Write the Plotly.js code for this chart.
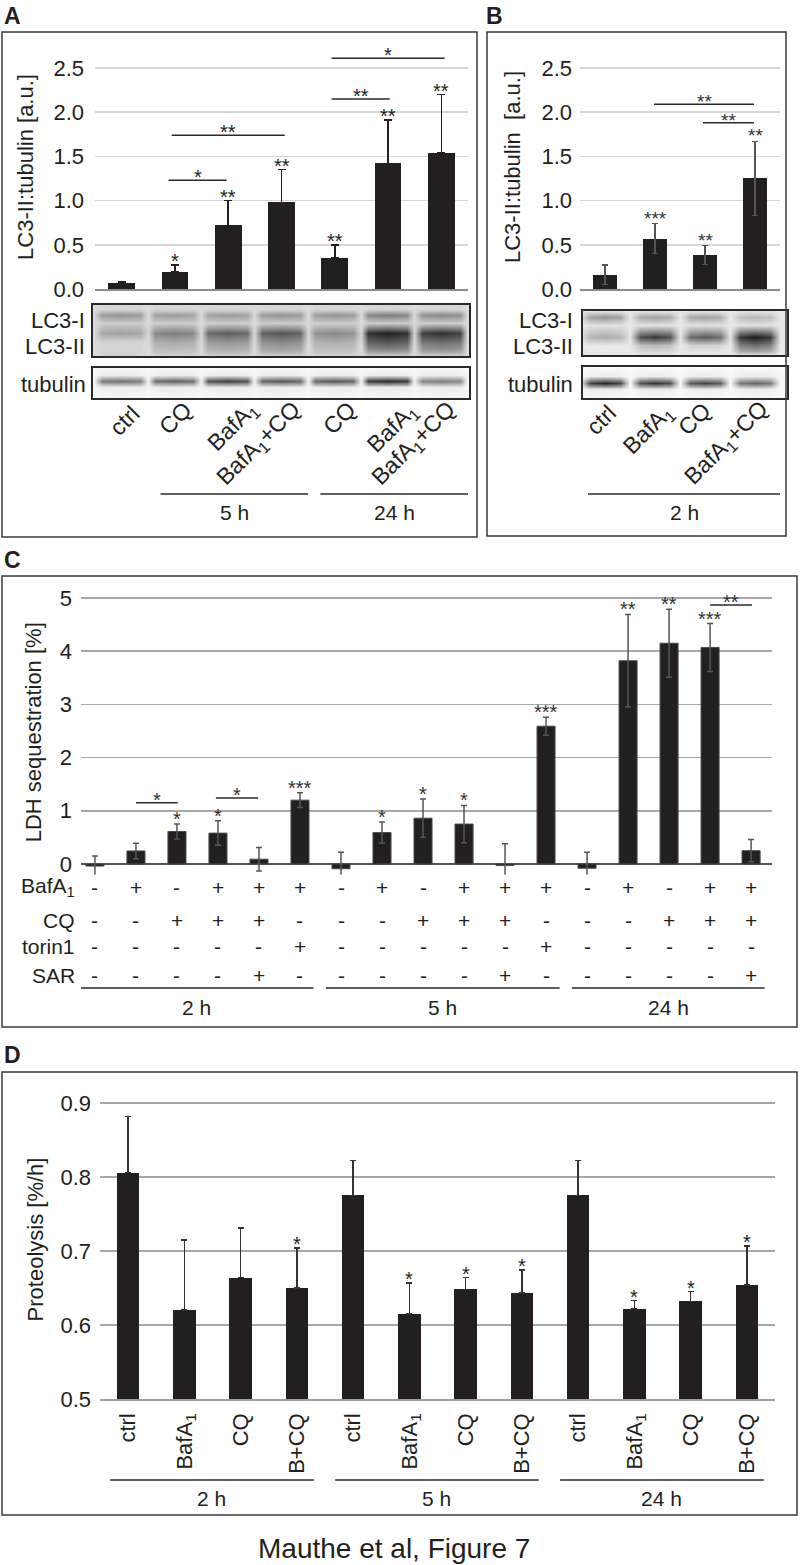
<!DOCTYPE html>
<html><head><meta charset="utf-8">
<script src="https://cdn.plot.ly/plotly-3.0.1.min.js"></script>
<style>html,body{margin:0;padding:0;background:#fff}#fig{width:800px;height:1565px}</style>
</head><body><div id="fig"></div>
<script>
// ---------------- DATA ----------------
// Panel A: LC3-II:tubulin
const lanesA = ["ctrl","CQ","BafA<sub>1</sub>","BafA<sub>1</sub>+CQ","CQ","BafA<sub>1</sub>","BafA<sub>1</sub>+CQ"];
const valA = [0.07, 0.19, 0.72, 0.98, 0.35, 1.42, 1.54];
const errA = [0.01, 0.08, 0.28, 0.37, 0.15, 0.49, 0.66];
const sigA = ["", "*", "**", "**", "**", "**", "**"];
const brAfrom = [0.88, 0.94, 3.94, 3.94];
const brAto   = [1.97, 3.06, 5.03, 6.06];
const brAy    = [1.23, 1.74, 2.15, 2.61];
const brAtxt  = ["*", "**", "**", "*"];
const groupsA = ["5 h", "24 h"];
const groupsAfirst = [1, 4];
const groupsAlast  = [3, 6];
// blot densities A (0 = white, 1 = black)
const lc3I_A    = [0.45, 0.42, 0.42, 0.45, 0.45, 0.55, 0.50];
const lc3II_A   = [0.40, 0.55, 0.68, 0.72, 0.50, 0.95, 0.88];
const smearA    = [0.18, 0.36, 0.45, 0.50, 0.34, 0.72, 0.62];
const smearLowA = [0.18, 0.28, 0.34, 0.38, 0.27, 0.50, 0.45];
const tubA      = [0.60, 0.66, 0.80, 0.70, 0.70, 0.90, 0.55];

// Panel B
const lanesB = ["ctrl","BafA<sub>1</sub>","CQ","BafA<sub>1</sub>+CQ"];
const valB = [0.16, 0.57, 0.385, 1.25];
const errB = [0.11, 0.17, 0.105, 0.42];
const sigB = ["", "***", "**", "**"];
const brBfrom = [0.98, 1.96];
const brBto   = [2.98, 2.98];
const brBy    = [2.09, 1.88];
const brBtxt  = ["**", "**"];
const groupsB = ["2 h"];
const groupsBfirst = [0];
const groupsBlast  = [3];
const lc3I_B    = [0.45, 0.40, 0.40, 0.30];
const lc3II_B   = [0.35, 0.85, 0.70, 0.97];
const smearB    = [0.10, 0.30, 0.20, 0.62];
const smearLowB = [0.08, 0.18, 0.12, 0.40];
const tubB      = [0.92, 0.86, 0.80, 0.66];

// Panel C: LDH sequestration
const valC = [-0.04, 0.245, 0.61, 0.58, 0.09, 1.20, -0.09, 0.59, 0.86, 0.75, -0.03, 2.59, -0.08, 3.82, 4.15, 4.07, 0.25];
const errC = [0.19, 0.145, 0.14, 0.23, 0.22, 0.14, 0.31, 0.20, 0.36, 0.35, 0.41, 0.17, 0.30, 0.87, 0.64, 0.45, 0.21];
const sigC = ["", "", "*", "*", "", "***", "", "*", "*", "*", "", "***", "", "**", "**", "***", ""];
const brCfrom = [1.00, 2.95, 15.00];
const brCto   = [2.02, 3.98, 16.02];
const brCy    = [1.15, 1.24, 4.87];
const brCtxt  = ["*", "*", "**"];
const rowLabelsC = ["BafA<sub>1</sub>", "CQ", "torin1", "SAR"];
const bafC = ["-","+","-","+","+","+","-","+","-","+","+","+","-","+","-","+","+"];
const cqC  = ["-","-","+","+","+","-","-","-","+","+","+","-","-","-","+","+","+"];
const torC = ["-","-","-","-","-","+","-","-","-","-","-","+","-","-","-","-","-"];
const sarC = ["-","-","-","-","+","-","-","-","-","-","+","-","-","-","-","-","+"];
const groupsC = ["2 h", "5 h", "24 h"];
const groupsCfirst = [0, 6, 12];
const groupsClast  = [5, 11, 16];

// Panel D: Proteolysis
const lanesD = ["ctrl","BafA<sub>1</sub>","CQ","B+CQ","ctrl","BafA<sub>1</sub>","CQ","B+CQ","ctrl","BafA<sub>1</sub>","CQ","B+CQ"];
const valD = [0.806, 0.620, 0.664, 0.650, 0.775, 0.615, 0.648, 0.643, 0.775, 0.622, 0.632, 0.654];
const errD = [0.076, 0.095, 0.067, 0.054, 0.047, 0.042, 0.016, 0.031, 0.047, 0.011, 0.013, 0.053];
const sigD = ["", "", "", "*", "", "*", "*", "*", "", "*", "*", "*"];
const groupsD = ["2 h", "5 h", "24 h"];
const groupsDfirst = [0, 4, 8];
const groupsDlast  = [3, 7, 11];

// ---------------- LAYOUT HELPERS ----------------
const W = 800, H = 1565;
const FONT = "Liberation Sans, Arial, Helvetica, sans-serif";
const TXT = "#231f20";
const BAR = "#231f20";
const px = x => x / W;
const py = y => 1 - y / H;
const dx = (a, b) => [a / W, b / W];
const dy = (top, bottom) => [1 - bottom / H, 1 - top / H];
const idx = n => Array.from({length: n}, (_, i) => i);

const traces = [];
const shapes = [];
const annotations = [];

function blot(xa, ya, n, rows, offs, wts) {
  const xs = [], cols = [];
  for (let i = 0; i < n; i++) {
    offs.forEach((o, k) => { xs.push(i + o); cols.push([i, wts[k]]); });
  }
  xs.push(n - 0.5); cols.push([n - 1, 0]);
  const ys = rows.map(r => r.y);
  const z = rows.map(r => cols.map(([i, w]) => {
    const v = Array.isArray(r.v) ? r.v[i] : r.v;
    return r.base + (v - r.base) * w;
  }));
  traces.push({type: 'heatmap', x: xs, y: ys, z: z, xaxis: xa, yaxis: ya,
    colorscale: [[0, '#ffffff'], [1, '#141414']], zmin: 0, zmax: 1,
    zsmooth: 'best', showscale: false, hoverinfo: 'skip'});
}

function blotAxes(xd, yd, xr, n) {
  const common = {showgrid: false, zeroline: false, showticklabels: false, ticks: '',
    showline: true, mirror: true, linecolor: '#2a2a2a', linewidth: 2, fixedrange: true};
  return [Object.assign({domain: xd, range: xr, anchor: 'y' + n}, common),
          Object.assign({domain: yd, range: [1, 0], anchor: 'x' + n}, common)];
}

function starAnns(xref, yref, vals, errs, sig, size, color, shift) {
  vals.forEach((v, i) => {
    if (!sig[i]) return;
    annotations.push({xref, yref, x: i, y: v + Math.max(errs[i], 0), text: sig[i], showarrow: false,
      yanchor: 'bottom', yshift: shift, font: {size, color}});
  });
}

function brackets(xref, yref, from, to, ys, txt, size, color) {
  from.forEach((f, i) => {
    shapes.push({type: 'line', xref, yref, x0: f, x1: to[i], y0: ys[i], y1: ys[i],
      line: {color: '#2a2a2a', width: 1.5}});
    annotations.push({xref, yref, x: (f + to[i]) / 2, y: ys[i], text: txt[i], showarrow: false,
      yanchor: 'bottom', yshift: -10, font: {size, color}});
  });
}

function groups(xref, names, first, last, padL, padR, lineY, textY) {
  names.forEach((g, i) => {
    const x0 = first[i] - padL, x1 = last[i] + padR;
    shapes.push({type: 'line', xref, yref: 'paper', x0, x1, y0: py(lineY), y1: py(lineY),
      line: {color: '#2a2a2a', width: 1.5}});
    annotations.push({xref, yref: 'paper', x: (x0 + x1) / 2, y: py(textY), text: g, showarrow: false,
      yanchor: 'middle', font: {size: 21, color: TXT}});
  });
}

function label(x, y, text, opts) {
  annotations.push(Object.assign({xref: 'paper', yref: 'paper', x: px(x), y: py(y), text,
    showarrow: false, xanchor: 'right', yanchor: 'middle', font: {size: 22, color: TXT}}, opts || {}));
}

// rotated lane labels, centred on their own middle
function laneLabels(xref, lanes, xshift, yc) {
  lanes.forEach((t, i) => annotations.push({xref, yref: 'paper', x: i, y: py(yc[i]), xshift: xshift[i],
    text: t, textangle: -45, showarrow: false, xanchor: 'center', yanchor: 'middle',
    font: {size: 23, color: TXT}}));
}

// ---------------- PANEL A ----------------
traces.push({type: 'bar', x: idx(valA.length), y: valA, xaxis: 'x', yaxis: 'y', width: 0.5,
  marker: {color: BAR}, hoverinfo: 'skip',
  error_y: {type: 'data', symmetric: false, array: errA, arrayminus: valA.map(() => 0),
    color: BAR, thickness: 1.5, width: 4}});
starAnns('x', 'y', valA, errA, sigA, 20, TXT, -9);
brackets('x', 'y', brAfrom, brAto, brAy, brAtxt, 20, TXT);

blot('x2', 'y2', 7, [
  {y: 0.00, base: 0.15, v: 0.17},
  {y: 0.08, base: 0.15, v: 0.18},
  {y: 0.20, base: 0.16, v: lc3I_A},
  {y: 0.36, base: 0.16, v: 0.22},
  {y: 0.55, base: 0.17, v: lc3II_A},
  {y: 0.72, base: 0.16, v: smearA},
  {y: 0.88, base: 0.15, v: smearLowA},
  {y: 1.00, base: 0.15, v: 0.2}
], [-0.5, -0.36, 0, 0.36], [0, 0.9, 1, 0.9]);
blot('x3', 'y3', 7, [
  {y: 0.00, base: 0.03, v: 0.04},
  {y: 0.22, base: 0.04, v: 0.08},
  {y: 0.42, base: 0.05, v: tubA},
  {y: 0.62, base: 0.04, v: 0.08},
  {y: 1.00, base: 0.03, v: 0.04}
], [-0.5, -0.36, 0, 0.36], [0, 0.9, 1, 0.9]);

laneLabels('x3', lanesA, [4, 1, 6, -21, 5, 5, -26], [420, 418, 427, 444, 418, 428, 444]);
groups('x', groupsA, groupsAfirst, groupsAlast, 0.27, 0.5, 494, 512);
label(87, 320, 'LC3-I'); label(87, 347, 'LC3-II'); label(88, 384, 'tubulin');

// ---------------- PANEL B ----------------
traces.push({type: 'bar', x: idx(valB.length), y: valB, xaxis: 'x4', yaxis: 'y4', width: 0.48,
  marker: {color: BAR}, hoverinfo: 'skip',
  error_y: {type: 'data', array: errB, color: '#555555', thickness: 1.5, width: 3}});
starAnns('x4', 'y4', valB, errB, sigB, 19, '#333', -7);
brackets('x4', 'y4', brBfrom, brBto, brBy, brBtxt, 19, '#333');
blot('x5', 'y5', 4, [
  {y: 0.00, base: 0.10, v: 0.12},
  {y: 0.14, base: 0.10, v: lc3I_B},
  {y: 0.32, base: 0.10, v: 0.13},
  {y: 0.59, base: 0.11, v: lc3II_B},
  {y: 0.78, base: 0.10, v: smearB},
  {y: 0.92, base: 0.10, v: smearLowB},
  {y: 1.00, base: 0.10, v: 0.12}
], [-0.5, -0.3, 0, 0.3], [0, 0.85, 1, 0.85]);
blot('x6', 'y6', 4, [
  {y: 0.00, base: 0.02, v: 0.03},
  {y: 0.30, base: 0.03, v: 0.08},
  {y: 0.50, base: 0.03, v: tubB},
  {y: 0.70, base: 0.03, v: 0.08},
  {y: 1.00, base: 0.02, v: 0.03}
], [-0.5, -0.3, 0, 0.3], [0, 0.85, 1, 0.85]);
laneLabels('x6', lanesB, [-4, -7, -11, -28], [420, 430, 419, 444]);
groups('x4', groupsB, groupsBfirst, groupsBlast, 0.34, 0.5, 494, 512);
label(575, 321, 'LC3-I'); label(575, 346, 'LC3-II'); label(575, 384, 'tubulin');

// ---------------- PANEL C ----------------
traces.push({type: 'bar', x: idx(valC.length), y: valC, xaxis: 'x7', yaxis: 'y7', width: 0.44,
  marker: {color: BAR, line: {color: '#4a4a4a', width: 1}}, hoverinfo: 'skip',
  error_y: {type: 'data', array: errC, color: '#555555', thickness: 1.5, width: 3}});
starAnns('x7', 'y7', valC, errC, sigC, 20, '#333', -8);
brackets('x7', 'y7', brCfrom, brCto, brCy, brCtxt, 20, '#333');
const rowsC = [bafC, cqC, torC, sarC];
const rowYC = [887, 920, 947, 975];
rowsC.forEach((row, r) => {
  label(77, rowYC[r], rowLabelsC[r], {font: {size: 21, color: TXT}});
  row.forEach((s, j) => annotations.push({xref: 'x7', yref: 'paper', x: j, y: py(rowYC[r]), text: s,
    showarrow: false, yanchor: 'middle', font: {size: 21, color: TXT}}));
});
groups('x7', groupsC, groupsCfirst, groupsClast, 0.37, 0.33, 988, 1007);

// ---------------- PANEL D ----------------
traces.push({type: 'bar', x: idx(valD.length), y: valD, xaxis: 'x8', yaxis: 'y8', width: 0.4,
  marker: {color: BAR}, hoverinfo: 'skip',
  error_y: {type: 'data', symmetric: false, array: errD, arrayminus: valD.map(() => 0),
    color: '#333333', thickness: 1.5, width: 3}});
starAnns('x8', 'y8', valD, errD, sigD, 20, TXT, -9);
groups('x8', groupsD, groupsDfirst, groupsDlast, 0.32, 0.3, 1480, 1498);

// ---------------- FRAMES / LETTERS ----------------
[[2, 32, 477, 537], [487, 32, 786, 536], [2, 576, 797, 1027], [2, 1072, 797, 1515]].forEach(b =>
  shapes.push({type: 'rect', xref: 'paper', yref: 'paper', x0: px(b[0]), x1: px(b[2]), y0: py(b[3]), y1: py(b[1]),
    line: {color: '#3a3a3a', width: 1.5}}));
[['A', 2, 16], ['B', 484, 16], ['C', 2, 560], ['D', 2, 1055]].forEach(l =>
  label(l[1], l[2], '<b>' + l[0] + '</b>', {xanchor: 'left', font: {size: 23, color: TXT}}));
annotations.push({xref: 'paper', yref: 'paper', x: px(394), y: py(1548), text: 'Mauthe et al, Figure 7',
  showarrow: false, xanchor: 'center', yanchor: 'middle', font: {size: 28, color: TXT}});

// ---------------- AXES ----------------
function valAxis(dom, range, dtick, tick0, fmt, grid, standoff, title, tstand, anchor) {
  return {domain: dom, range, dtick, tick0, tickformat: fmt, showgrid: true, gridcolor: grid, gridwidth: 1.5,
    zeroline: false, showline: false, ticks: '', ticklabelstandoff: standoff, tickfont: {size: 22, color: TXT},
    title: {text: title, standoff: tstand, font: {size: 22, color: TXT}}, fixedrange: true, anchor};
}
function catAxis(dom, range, anchor, extra) {
  return Object.assign({domain: dom, range, showgrid: false, zeroline: false, showticklabels: false,
    ticks: '', showline: false, fixedrange: true, anchor}, extra || {});
}

const [xa2, ya2] = blotAxes(dx(93, 469), dy(305, 356), [-0.525, 6.53], 2);
const [xa3, ya3] = blotAxes(dx(93, 469), dy(368, 398), [-0.525, 6.53], 3);
const [xa5, ya5] = blotAxes(dx(583, 787), dy(311, 355), [-0.44, 3.64], 5);
const [xa6, ya6] = blotAxes(dx(583, 787), dy(367, 398), [-0.44, 3.64], 6);

const layout = {
  width: W, height: H, margin: {l: 0, r: 0, t: 0, b: 0},
  paper_bgcolor: '#ffffff', plot_bgcolor: 'rgba(0,0,0,0)', showlegend: false,
  font: {family: FONT, size: 21, color: TXT},
  bargap: 0,
  xaxis: catAxis(dx(95, 468), [-0.5, 6.5], 'y', {showline: true, linecolor: '#8a8a8a', linewidth: 1.5}),
  yaxis: valAxis(dy(45, 289), [0, 2.76], 0.5, 0, '.1f', '#d6d6d6', 10, 'LC3-II:tubulin [a.u.]', 13, 'x'),
  xaxis2: xa2, yaxis2: ya2, xaxis3: xa3, yaxis3: ya3,
  xaxis4: catAxis(dx(580, 780), [-0.5, 3.5], 'y4', {showline: true, linecolor: '#8a8a8a', linewidth: 1.5}),
  yaxis4: valAxis(dy(45, 289), [0, 2.76], 0.5, 0, '.1f', '#d6d6d6', 7, 'LC3-II:tubulin\u00a0 [a.u.]', 14, 'x4'),
  xaxis5: xa5, yaxis5: ya5, xaxis6: xa6, yaxis6: ya6,
  xaxis7: catAxis(dx(81, 772), [-0.34, 16.51], 'y7'),
  yaxis7: Object.assign(valAxis(dy(590, 874.6), [-0.2, 5.15], 1, 0, 'd', '#a8a8a8', 8, 'LDH sequestration [%]', 12, 'x7'),
    {zeroline: true, zerolinecolor: '#555555', zerolinewidth: 1.5}),
  xaxis8: catAxis(dx(100, 775), [-0.5, 11.5], 'y8', {showline: true, linecolor: '#a0a0a0', linewidth: 1.5,
    showticklabels: true, tickvals: idx(lanesD.length), ticktext: lanesD, tickangle: -90,
    ticklabelstandoff: 4, tickfont: {size: 22, color: TXT}}),
  yaxis8: valAxis(dy(1080, 1399), [0.5, 0.931], 0.1, 0.5, '.1f', '#a8a8a8', 8, 'Proteolysis [%/h]', 10, 'x8'),
  shapes, annotations
};

Plotly.newPlot('fig', traces, layout, {staticPlot: true, displayModeBar: false});
</script></body></html>
